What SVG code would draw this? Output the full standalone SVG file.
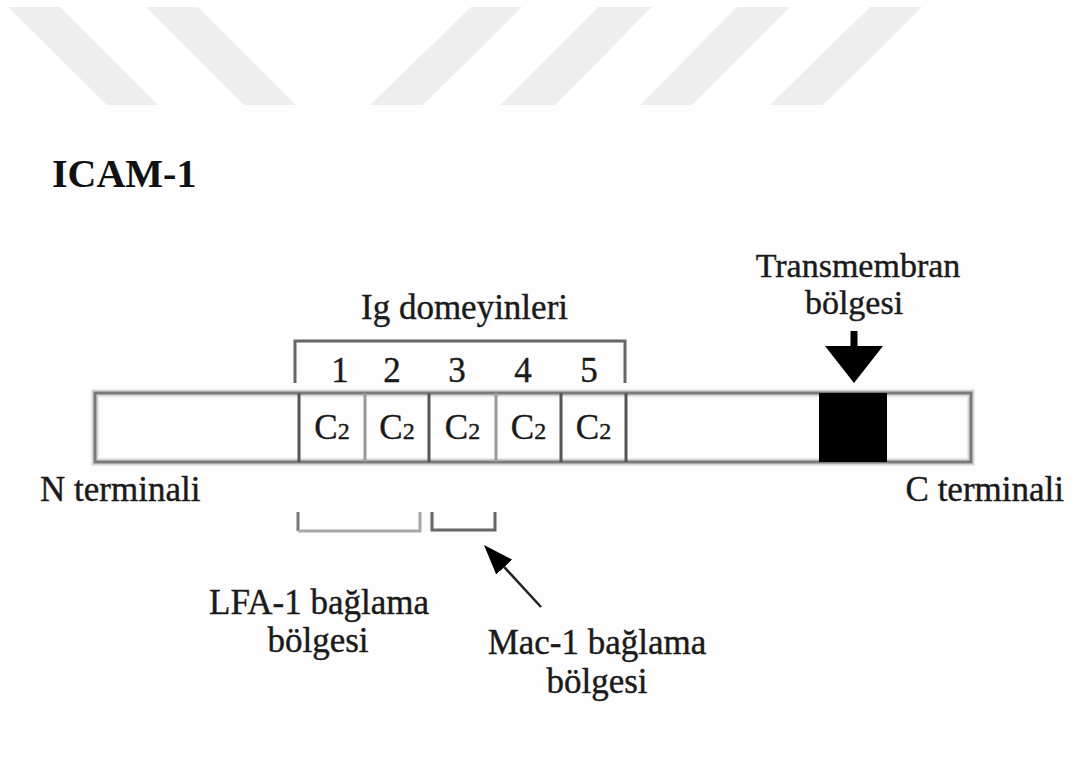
<svg xmlns="http://www.w3.org/2000/svg" width="1075" height="769" viewBox="0 0 1075 769">
  <defs>
    <style>
      .lbl { font-family: "Liberation Serif", "Times New Roman", serif; font-size: 35px; fill: #1a1a1a; stroke: #1a1a1a; stroke-width: 0.4; }
      .tm { font-size: 34px; }
      .title { font-family: "Liberation Serif", "Times New Roman", serif; font-size: 40px; font-weight: bold; fill: #111; }
      .stripe { fill: #eeeeee; }
      .halo { fill: none; stroke: #d6d6d6; stroke-width: 7; }
      .edge { fill: none; stroke: #7a7a7a; stroke-width: 3; }
      .div-dark { stroke: #555; stroke-width: 3; }
      .div-light { stroke: #9a9a9a; stroke-width: 3; }
      .brk { fill: none; stroke: #666; stroke-width: 3; }
    </style>
    <marker id="bigHead" markerUnits="userSpaceOnUse" viewBox="0 0 37 58" markerWidth="37" markerHeight="58" refX="0" refY="29" orient="auto">
      <path d="M0,0 L37,29 L0,58 Z" fill="#000"/>
    </marker>
    <marker id="smallHead" markerUnits="userSpaceOnUse" viewBox="0 0 30 22" markerWidth="30" markerHeight="22" refX="0" refY="11" orient="auto">
      <path d="M0,0 L30,11 L0,22 Z" fill="#000"/>
    </marker>
  </defs>

  <rect x="0" y="0" width="1075" height="769" fill="#ffffff"/>
  <g id="watermark">
    <polygon class="stripe" points="8,7 60,7 158,105 107,105"/>
    <polygon class="stripe" points="146,7 198,7 296,105 244,105"/>
    <polygon class="stripe" points="471,7 522,7 423,105 370,105"/>
    <polygon class="stripe" points="598,7 652,7 555,105 500,105"/>
    <polygon class="stripe" points="737,7 790,7 692,105 640,105"/>
    <polygon class="stripe" points="870,7 922,7 823,105 770,105"/>
  </g>
  <rect x="40" y="105" width="1035" height="664" fill="#fdfdfd"/>

  <g id="title">
    <text class="title" x="52" y="187">ICAM-1</text>
  </g>

  <g id="bar">
    <rect class="halo" x="95" y="393" width="876" height="69"/>
    <rect x="95" y="393" width="876" height="69" fill="#ffffff" class="edge"/>
    <rect x="819" y="393" width="68" height="69" fill="#000"/>
    <line class="div-dark" x1="299" y1="393" x2="299" y2="462"/>
    <line class="div-light" x1="365" y1="393" x2="365" y2="462"/>
    <line class="div-dark" x1="429" y1="393" x2="429" y2="462"/>
    <line class="div-light" x1="496" y1="393" x2="496" y2="462"/>
    <line class="div-dark" x1="561" y1="393" x2="561" y2="462"/>
    <line class="div-dark" x1="626" y1="393" x2="626" y2="462"/>
  </g>

  <g id="domains">
    <text class="lbl" x="332" y="439" text-anchor="middle">C<tspan font-size="24">2</tspan></text>
    <text class="lbl" x="397" y="439" text-anchor="middle">C<tspan font-size="24">2</tspan></text>
    <text class="lbl" x="462.5" y="439" text-anchor="middle">C<tspan font-size="24">2</tspan></text>
    <text class="lbl" x="528.5" y="439" text-anchor="middle">C<tspan font-size="24">2</tspan></text>
    <text class="lbl" x="593.5" y="439" text-anchor="middle">C<tspan font-size="24">2</tspan></text>
  </g>

  <g id="ig-domains">
    <text class="lbl" x="464.5" y="319" text-anchor="middle">Ig domeyinleri</text>
    <path class="brk" d="M295,383 L295,341 L625,341 L625,383"/>
    <text class="lbl" x="340" y="382" text-anchor="middle">1</text>
    <text class="lbl" x="392" y="382" text-anchor="middle">2</text>
    <text class="lbl" x="457" y="382" text-anchor="middle">3</text>
    <text class="lbl" x="523" y="382" text-anchor="middle">4</text>
    <text class="lbl" x="589" y="382" text-anchor="middle">5</text>
  </g>

  <g id="transmembrane">
    <text class="lbl tm" x="858" y="277" text-anchor="middle">Transmembran</text>
    <text class="lbl tm" x="854" y="314" text-anchor="middle">bölgesi</text>
  </g>

  <g id="n-terminal">
    <text class="lbl" x="40" y="501">N terminali</text>
  </g>
  <g id="c-terminal">
    <text class="lbl" x="1064" y="501" text-anchor="end">C terminali</text>
  </g>

  <g id="lfa1-site">
    <path d="M298,512 L298,531" stroke="#777" stroke-width="3" fill="none"/>
    <path d="M298,531 L420,531 L420,512" stroke="#a8a8a8" stroke-width="3" fill="none"/>
    <text class="lbl" x="319" y="614" text-anchor="middle">LFA-1 bağlama</text>
    <text class="lbl" x="318" y="652" text-anchor="middle">bölgesi</text>
  </g>

  <g id="mac1-site">
    <path class="brk" d="M432,512 L432,530 L495,530 L495,512"/>
    <text class="lbl" x="597" y="654" text-anchor="middle">Mac-1 bağlama</text>
    <text class="lbl" x="597" y="693" text-anchor="middle">bölgesi</text>
  </g>

  <g id="connectors">
    <line x1="854" y1="331" x2="854" y2="346" stroke="#000" stroke-width="7" marker-end="url(#bigHead)"/>
    <line x1="541" y1="607" x2="504.3" y2="567.1" stroke="#222" stroke-width="2.5" marker-end="url(#smallHead)"/>
  </g>
</svg>
